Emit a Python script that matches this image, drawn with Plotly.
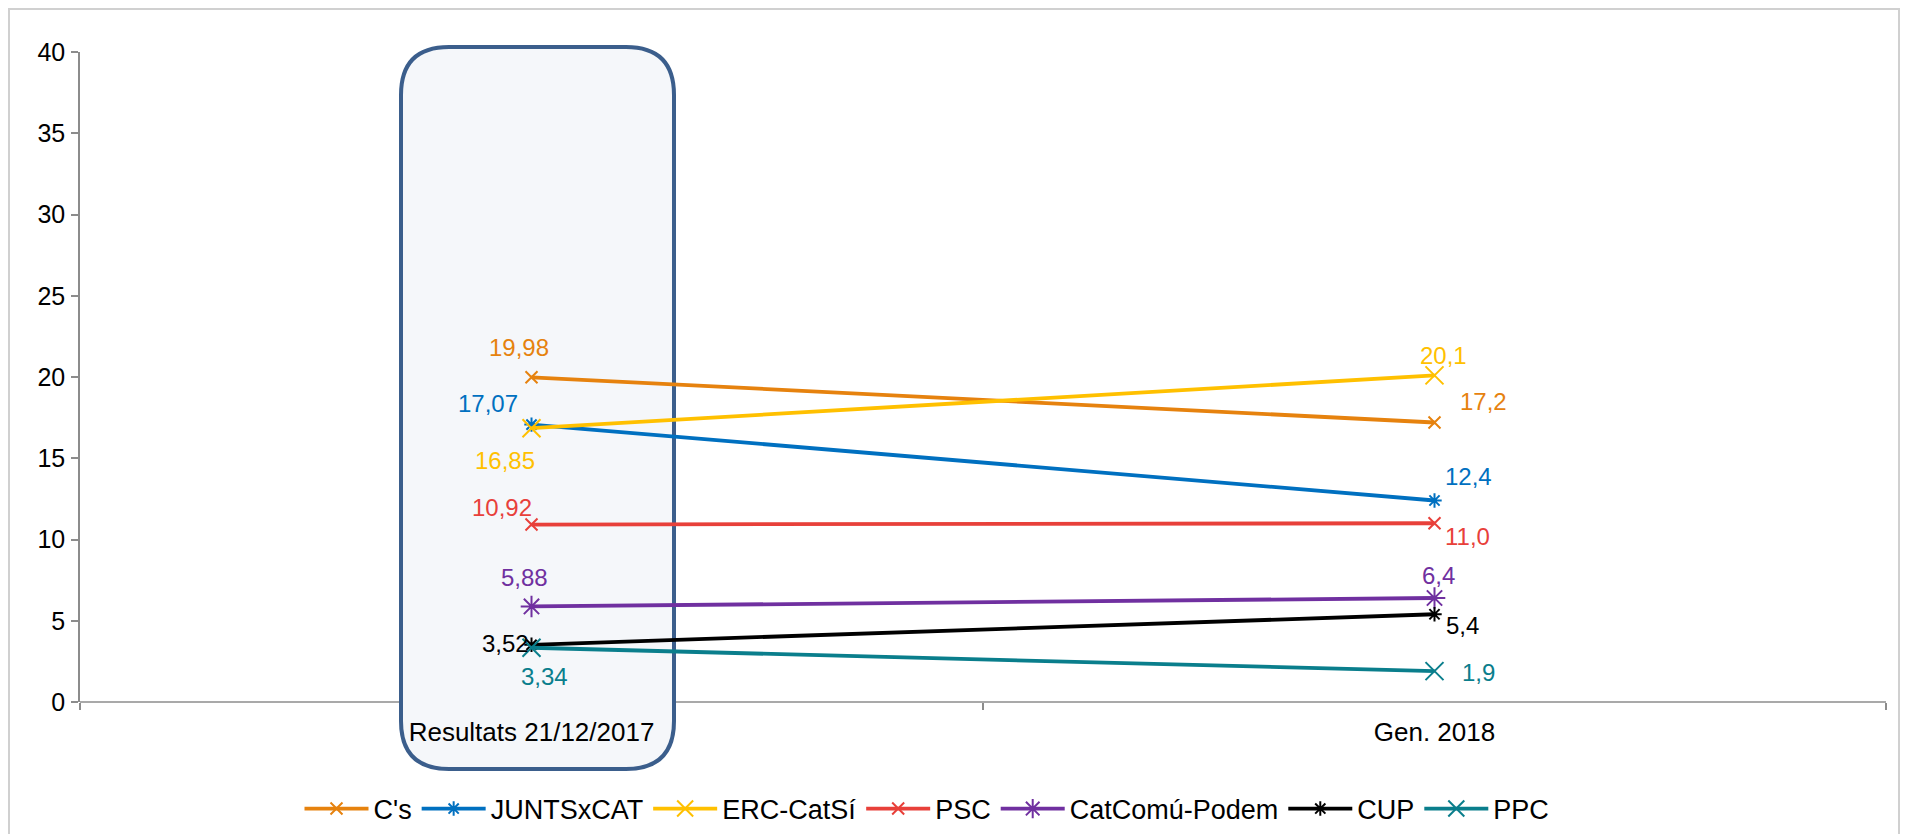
import plotly.graph_objects as go

# ---------------- data ----------------
categories = ["Resultats 21/12/2017", "Gen. 2018"]
parties = ["C's", "JUNTSxCAT", "ERC-CatSí", "PSC", "CatComú-Podem", "CUP", "PPC"]
cs = [19.98, 17.2]
junts = [17.07, 12.4]
erc = [16.85, 20.1]
psc = [10.92, 11.0]
catcomu = [5.88, 6.4]
cup = [3.52, 5.4]
ppc = [3.34, 1.9]
labels_cs = ["19,98", "17,2"]
labels_junts = ["17,07", "12,4"]
labels_erc = ["16,85", "20,1"]
labels_psc = ["10,92", "11,0"]
labels_catcomu = ["5,88", "6,4"]
labels_cup = ["3,52", "5,4"]
labels_ppc = ["3,34", "1,9"]
y_ticks = [0, 5, 10, 15, 20, 25, 30, 35, 40]

series_values = [cs, junts, erc, psc, catcomu, cup, ppc]
series_labels = [labels_cs, labels_junts, labels_erc, labels_psc,
                 labels_catcomu, labels_cup, labels_ppc]

# ---------------- styles ----------------
colors = ["#E6820E", "#0070C0", "#FFC000", "#E8403A", "#7030A0", "#000000", "#0A7E8C"]
symbols = ["x-thin-open", "asterisk-open", "x-thin-open", "x-thin-open",
           "asterisk-open", "asterisk-open", "x-thin-open"]
msizes = [12, 12, 18, 12, 18, 12, 18]
# label pixel offsets (dx, dy) per series per point
label_shifts = [
    [(-13, 30), (49, 21)],
    [(-44, 21), (34, 24)],
    [(-27, -32), (9, 20)],
    [(-30, 17), (33, -13)],
    [(-7, 29), (4, 23)],
    [(-26, 1), (28, -11)],
    [(13, -29), (44, -1)],
]

FONT = "Liberation Sans, Arial, sans-serif"

# page body has an 8px margin; the figure is sized to the remaining area
OFF = 8
W, H = 1900, 826
L, R, T, B = 80 - OFF, 22, 52 - OFF, 132
PW, PH = W - L - R, H - T - B

fig = go.Figure()
for name, vals, col, sym, ms in zip(parties, series_values, colors, symbols, msizes):
    fig.add_trace(go.Scatter(
        x=categories, y=vals, name=name, mode="lines+markers",
        line=dict(color=col, width=3.8),
        marker=dict(symbol=sym, size=ms, color=col, line=dict(color=col, width=2)),
    ))

annotations = []
for vals, labs, col, shifts in zip(series_values, series_labels, colors, label_shifts):
    for cat, v, lab, (dx, dy) in zip(categories, vals, labs, shifts):
        annotations.append(dict(
            x=cat, y=v, xref="x", yref="y", text=lab, showarrow=False,
            xshift=dx, yshift=dy, xanchor="center", yanchor="middle",
            font=dict(color=col, size=24, family=FONT),
        ))


def px_to_paper_x(px):
    return (px - OFF - L) / PW


def px_to_paper_y(py):
    return (H - B - (py - OFF)) / PH


# rounded highlight box (reference pixel coords)
bx0, bx1, by0, by1, rad = 401, 674, 47, 769, 48
x0, x1 = px_to_paper_x(bx0), px_to_paper_x(bx1)
yt, yb = px_to_paper_y(by0), px_to_paper_y(by1)
rx, ry = rad / PW, rad / PH
path = (f"M {x0+rx},{yt} L {x1-rx},{yt} Q {x1},{yt} {x1},{yt-ry} "
        f"L {x1},{yb+ry} Q {x1},{yb} {x1-rx},{yb} L {x0+rx},{yb} "
        f"Q {x0},{yb} {x0},{yb+ry} L {x0},{yt-ry} Q {x0},{yt} {x0+rx},{yt} Z")

shapes = [
    dict(type="line", xref="paper", yref="paper", x0=0, x1=1, y0=0, y1=0,
         line=dict(color="#8C8C8C", width=1.5), layer="below"),
    dict(type="path", xref="paper", yref="paper", path=path,
         fillcolor="#F5F7FA", line=dict(color="#3B5E8C", width=4), layer="below"),
    dict(type="rect", xref="paper", yref="paper",
         x0=px_to_paper_x(OFF + 1), x1=px_to_paper_x(1899),
         y0=px_to_paper_y(H + 20), y1=px_to_paper_y(OFF + 1),
         line=dict(color="#D0D0D0", width=2), fillcolor="rgba(0,0,0,0)", layer="below"),
]

legend_y_container = (H - (809 - OFF)) / H

fig.update_layout(
    width=W, height=H,
    margin=dict(l=L, r=R, t=T, b=B, pad=0, autoexpand=False),
    paper_bgcolor="white", plot_bgcolor="rgba(0,0,0,0)",
    font=dict(family=FONT, size=24, color="black"),
    showlegend=True,
    legend=dict(orientation="h", x=px_to_paper_x(927), xanchor="center", xref="paper",
                y=legend_y_container, yref="container", yanchor="middle",
                font=dict(size=27, family=FONT), itemwidth=64, tracegroupgap=0,
                bgcolor="rgba(0,0,0,0)"),
    xaxis=dict(type="category", range=[-0.5, 1.5], showgrid=False, showline=False,
               ticks="outside", tickson="boundaries", ticklen=7, tickcolor="#8C8C8C",
               tickwidth=1.5, ticklabelstandoff=12, zeroline=False, automargin=False,
               tickfont=dict(size=26, family=FONT)),
    yaxis=dict(range=[0, 40], tickvals=y_ticks, showgrid=False, showline=True,
               linecolor="#8C8C8C", linewidth=1.5, ticks="outside", ticklen=7,
               tickcolor="#8C8C8C", tickwidth=1.5, zeroline=False, automargin=False,
               ticklabelstandoff=1, tickfont=dict(size=25, family=FONT)),
    annotations=annotations,
    shapes=shapes,
)

fig.write_html("out.html")
